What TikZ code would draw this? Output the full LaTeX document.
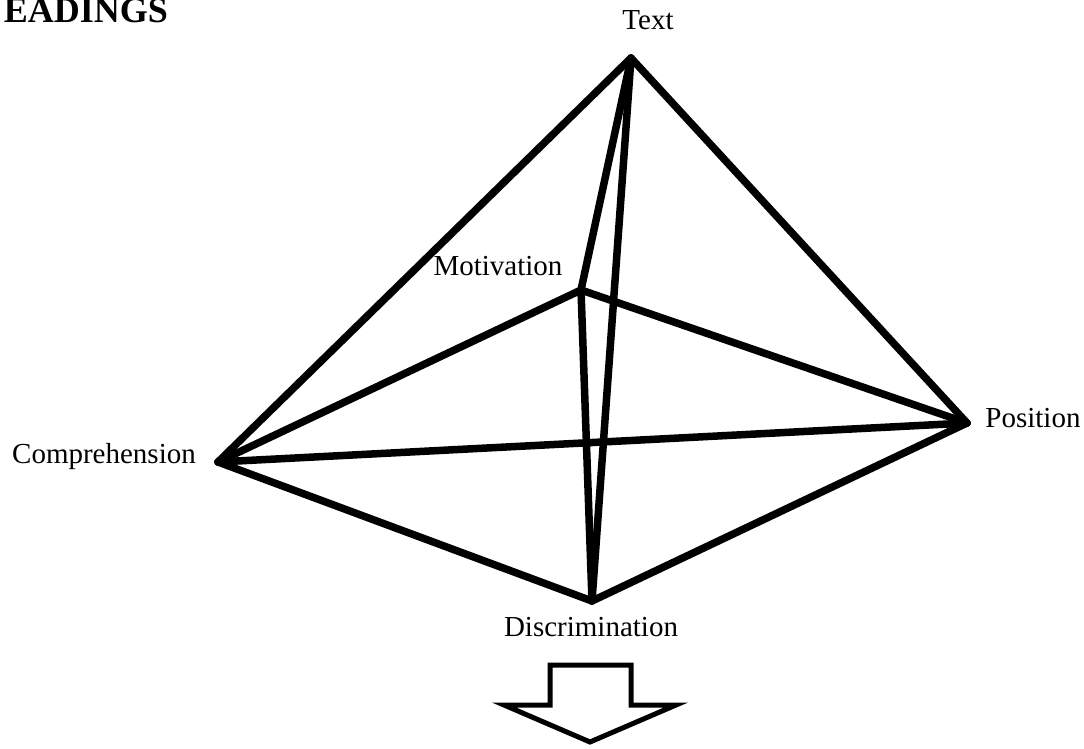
\documentclass[tikz,border=0pt]{standalone}
\usepackage{fontspec}
\setmainfont{Liberation Serif}
\usepackage{tikz}

\begin{document}
\begin{tikzpicture}[
  x=1pt, y=-1pt,
  every node/.style={font=\fontsize{29}{34}\selectfont, inner sep=0pt},
  corner/.style={anchor=base},
  edge/.style={line width=7.5pt, line cap=round, line join=round},
  blockarrow/.style={line width=5pt, line join=miter, fill=white}
]
\useasboundingbox (0,0) rectangle (1084,749);

% vertices of the pyramid
\coordinate (text) at (631,58);
\coordinate (motiv) at (581,290);
\coordinate (pos) at (967,423);
\coordinate (compr) at (218,462);
\coordinate (discr) at (592,601);

% labels
\node[anchor=base east, font=\fontsize{36}{40}\selectfont\bfseries] (head) at (168,23) {EADINGS};
\node[corner] (textlbl) at (648,30) {Text};
\node[corner] (motivlbl) at (498,275) {Motivation};
\node[corner] (poslbl) at (1033,427) {Position};
\node[corner] (comprlbl) at (104,463) {Comprehension};
\node[corner] (discrlbl) at (591,636) {Discrimination};

% edges
\draw[edge] (text) -- (compr);
\draw[edge] (text) -- (pos);
\draw[edge] (text) -- (motiv);
\draw[edge] (text) -- (discr);
\draw[edge] (motiv) -- (compr);
\draw[edge] (motiv) -- (pos);
\draw[edge] (motiv) -- (discr);
\draw[edge] (compr) -- (pos);
\draw[edge] (compr) -- (discr);
\draw[edge] (discr) -- (pos);

% down arrow
\draw[blockarrow] (550,665) -- (631,665) -- (631,705) -- (676,705) -- (590,742)
  -- (504,705) -- (550,705) -- cycle;
\end{tikzpicture}
\end{document}
